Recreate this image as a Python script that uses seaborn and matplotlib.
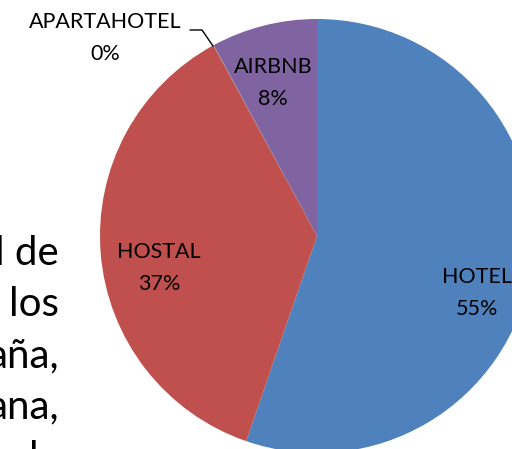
import matplotlib
matplotlib.use('Agg')
import matplotlib.pyplot as plt
import seaborn as sns

sns.set_theme(style='white')
plt.rcParams['font.family'] = ['Lato', 'DejaVu Sans']

# datos del grafico (porcentaje por tipo de alojamiento)
tipos = ['HOTEL', 'HOSTAL', 'APARTAHOTEL', 'AIRBNB']
porcentajes = [55.3, 36.8, 0.02, 7.9]
etiquetas_pct = ['55%', '37%', '0%', '8%']
colores = ['#4F81BD', '#C0504D', '#9BBB59', '#8064A2']

# texto del documento que queda cortado a la izquierda
texto_izq = ['l de', 'los', 'aña,', 'ana,', 'la']

W, H = 512, 449


def py(y):
    # coordenadas de pixel (y hacia abajo) -> datos
    return H - y


fig = plt.figure(figsize=(W / 100, H / 100), dpi=100)
ax = fig.add_axes([0, 0, 1, 1])

ax.pie(porcentajes, colors=colores, startangle=90, counterclock=False,
       center=(317, py(236)), radius=217, wedgeprops=dict(linewidth=0))

# etiquetas de datos
pos = {
    'HOTEL': (477, 283, 315),
    'HOSTAL': (159, 258, 290),
    'APARTAHOTEL': (105, 28, 60),
    'AIRBNB': (273, 73, 105),
}
for t, p in zip(tipos, etiquetas_pct):
    x, y1, y2 = pos[t]
    ax.text(x, py(y1), t, ha='center', va='baseline', fontsize=15.5, color='black')
    ax.text(x, py(y2), p, ha='center', va='baseline', fontsize=15.5, color='black')

# linea guia de APARTAHOTEL
ax.plot([190, 202, 213], [py(30), py(30), py(46)], color='black', lw=1)

for i, linea in enumerate(texto_izq):
    ax.text(59, py(265 + 51.3 * i), linea, ha='right', va='baseline',
            fontsize=29, color='black')

ax.set_xlim(0, W)
ax.set_ylim(0, H)
ax.axis('off')
fig.savefig('out.png', dpi=100)
